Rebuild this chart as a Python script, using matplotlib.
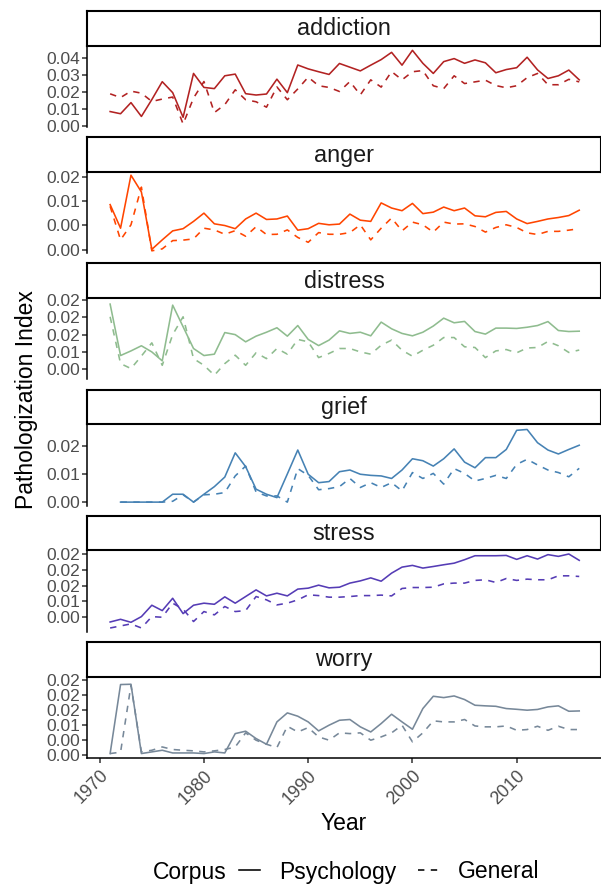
import matplotlib
matplotlib.use('Agg')
import matplotlib.pyplot as plt
from matplotlib.lines import Line2D

plt.rcParams['font.family'] = ['Liberation Sans', 'DejaVu Sans']

years = list(range(1971, 2017))
years_grief = list(range(1972, 2017))

addiction_psych = [.0084, .0071, .0137, .0055, .0155, .0261, .0196, .0050, .0310, .0227,
                   .0220, .0296, .0306, .0190, .0182, .0188, .0276, .0196, .0360, .0337,
                   .0320, .0304, .0369, .0347, .0325, .0359, .0392, .0435, .0359, .0447,
                   .0370, .0310, .0380, .0398, .0370, .0390, .0373, .0314, .0333, .0344,
                   .0406, .0331, .0280, .0296, .0330, .0272]
addiction_general = [.0189, .0167, .0205, .0193, .0144, .0158, .0170, .0010, .0164, .0262,
                     .0078, .0125, .0213, .0154, .0142, .0110, .0230, .0154, .0218, .0288,
                     .0237, .0227, .0203, .0262, .0183, .0272, .0229, .0321, .0272, .0320,
                     .0327, .0237, .0220, .0296, .0250, .0260, .0270, .0238, .0225, .0237,
                     .0285, .0310, .0243, .0243, .0275, .0260]

anger_psych = [.00925, .0044, .0153, .01185, .00005, .0020, .00385, .0043, .0058, .0075,
               .0053, .00495, .0043, .0063, .0075, .0062, .0063, .0069, .0040, .0043,
               .0054, .0051, .00525, .0073, .00605, .0058, .0096, .00855, .0080, .0095,
               .0074, .0077, .00875, .0080, .00855, .00695, .00675, .00765, .00785, .0063,
               .00535, .0058, .0063, .0066, .0070, .0081]
anger_general = [.0089, .0020, .0051, .01285, -.00025, .00015, .00185, .00195, .0022, .0044,
                 .00405, .00315, .0039, .00275, .0047, .0031, .00315, .00405, .0025, .0015,
                 .0035, .00315, .00315, .0035, .0051, .0020, .0044, .0065, .00385, .00565,
                 .0051, .0036, .00565, .00525, .0053, .00475, .0036, .00455, .0051, .00455,
                 .00345, .0031, .00375, .00375, .0040, .0043]

distress_psych = [.0189, .0039, .00525, .00675, .00495, .00235, .0186, .0123, .00595, .0039,
                  .0043, .0106, .0100, .0079, .00955, .0107, .0120, .00955, .01265, .0086,
                  .0068, .0084, .0111, .01035, .0107, .00965, .01365, .0117, .01035, .00965,
                  .0107, .0125, .0148, .01345, .01385, .0109, .01015, .0119, .0119, .0118,
                  .01215, .01265, .0138, .0112, .0109, .0110]
distress_general = [.0152, .00155, .0001, .00375, .0076, .00105, .0100, .0152, .0030, .00105,
                    -.00185, .00155, .0040, .00105, .0047, .0030, .00595, .0043, .0086, .0079,
                    .0033, .0045, .00595, .00595, .00495, .0043, .0069, .0084, .00545, .0037,
                    .00545, .0069, .00915, .00915, .00645, .00625, .0033, .00525, .00565, .0047,
                    .0061, .00625, .0080, .00675, .0048, .0055]

grief_psych = [0, 0, 0, 0, 0, .0028, .0028, 0, .0028, .0055,
               .0089, .0175, .0126, .0046, .0028, .0016, .0100, .0185, .0099, .0069,
               .0073, .0108, .0114, .0099, .0095, .0093, .0084, .0114, .0154, .0147,
               .0128, .0154, .0189, .0142, .0122, .0158, .0158, .0187, .0255, .0258,
               .0211, .0185, .0171, .0187, .0202]
grief_general = [0, 0, 0, 0, 0, .0003, .0026, 0, .0026, .0028,
                 .0034, .0093, .0128, .0036, .0022, .0022, 0, .0119, .0095, .0044,
                 .0048, .0055, .0084, .0052, .0069, .0052, .0069, .0040, .0105, .0084,
                 .0102, .0064, .0119, .0102, .0075, .0084, .0095, .0084, .0134, .0152,
                 .0132, .0114, .0105, .0090, .0120]

stress_psych = [-.0015, -.00065, -.0016, .0002, .0038, .0021, .0060, .00115, .0038, .00445,
                .0041, .00645, .00445, .00655, .00865, .00675, .0076, .00675, .0089, .0092,
                .01015, .0093, .0095, .0108, .0115, .01245, .0114, .01395, .01585, .0164,
                .01555, .01605, .0166, .0171, .0182, .01945, .01945, .01945, .01955, .0183,
                .01945, .0184, .0198, .01925, .0200, .0180]
stress_general = [-.0034, -.00275, -.0021, -.0034, .0002, 0, .00445, .00255, -.00135, .0018,
                  .00075, .0034, .0018, .0021, .00655, .0055, .0039, .00445, .0055, .0071,
                  .00685, .00635, .00635, .00655, .00685, .00685, .0070, .00675, .0091, .0094,
                  .0094, .0095, .01055, .0108, .0108, .01165, .01185, .0110, .01225, .01165,
                  .01205, .01185, .01185, .0131, .0131, .0129]

worry_psych = [.00045, .02345, .02355, .00045, .0010, .00155, .00065, .00065, .00065, .00045,
               .0010, .00065, .0071, .0079, .00545, .00355, .0110, .0140, .0129, .0110,
               .0080, .0099, .01155, .0118, .00935, .00765, .01045, .01355, .0110, .00855,
               .01545, .01955, .0191, .01965, .01845, .01655, .01635, .0162, .01545, .0152,
               .0149, .01515, .0160, .01635, .01455, .01465]
worry_general = [.00045, .0009, .0232, .0010, .00155, .00265, .0018, .00155, .00135, .0010,
                 .00135, .0018, .00265, .00735, .0049, .00355, .00245, .00955, .00765, .0091,
                 .0060, .0049, .00735, .0071, .00735, .0049, .0060, .00735, .0099, .00435,
                 .00735, .01135, .0110, .0110, .0118, .00965, .00935, .00935, .00965, .0082,
                 .00845, .00955, .0082, .00955, .00845, .00845]

terms = ['addiction', 'anger', 'distress', 'grief', 'stress', 'worry']
colors = ['#B22222', '#FF4500', '#8FBC8F', '#4682B4', '#553CB5', '#778899']
psych = [addiction_psych, anger_psych, distress_psych, grief_psych, stress_psych, worry_psych]
general = [addiction_general, anger_general, distress_general, grief_general,
           stress_general, worry_general]
xs = [years, years, years, years_grief, years, years]

ytick_vals = [[0, .01, .02, .03, .04],
              [0, .005, .01, .015],
              [0, .005, .01, .015, .02],
              [0, .01, .02],
              [0, .005, .01, .015, .02],
              [0, .005, .01, .015, .02, .025]]
ytick_labels = [['0.00', '0.01', '0.02', '0.03', '0.04'],
                ['0.00', '0.00', '0.01', '0.02'],
                ['0.00', '0.01', '0.02', '0.02', '0.02'],
                ['0.00', '0.01', '0.02'],
                ['0.00', '0.01', '0.02', '0.02', '0.02'],
                ['0.00', '0.00', '0.01', '0.02', '0.02', '0.02']]
ylims = [(-0.0007, 0.0475), (-0.00072, 0.016), (-0.00303, 0.02068),
         (-0.0012, 0.02767), (-0.00457, 0.02114), (-0.001, 0.0261)]
xticks = [1970, 1980, 1990, 2000, 2010]

W, H = 601, 891
fig = plt.figure(figsize=(W / 100, H / 100), dpi=100)
left, right = 87.4, 600.5
strip_h, panel_h = 34.6, 81.3

for i, term in enumerate(terms):
    s_top = 11 + 126.2 * i
    s_bot = s_top + strip_h
    p_bot = s_bot + panel_h

    ax = fig.add_axes([left / W, 1 - p_bot / H, (right - left) / W, panel_h / H])
    ax.plot(xs[i], psych[i], color=colors[i], lw=1.15)
    ax.plot(xs[i], general[i], color=colors[i], lw=1.15, dashes=(4, 4))
    ax.set_xlim(1968.82, 2018.04)
    ax.set_ylim(*ylims[i])
    ax.set_yticks(ytick_vals[i])
    ax.set_yticklabels(ytick_labels[i])
    for side in ['top', 'right']:
        ax.spines[side].set_visible(False)
    ax.spines['left'].set_linewidth(1.1)
    ax.tick_params(axis='y', direction='out', length=3.5, width=1.1, pad=2,
                   labelsize=12.5, labelcolor='#4D4D4D', color='#333333')
    ax.set_xticks(xticks)
    if i < len(terms) - 1:
        ax.spines['bottom'].set_visible(False)
        ax.tick_params(axis='x', bottom=False, labelbottom=False)
    else:
        ax.spines['bottom'].set_linewidth(1.1)
        ax.set_xticklabels([str(t) for t in xticks], rotation=45, ha='right',
                           rotation_mode='anchor')
        ax.tick_params(axis='x', direction='out', length=3.5, width=1.1, pad=3,
                       labelsize=13, labelcolor='#4D4D4D', color='#333333')

    sax = fig.add_axes([left / W, 1 - s_bot / H, (right - left) / W, strip_h / H])
    sax.set_xticks([])
    sax.set_yticks([])
    for sp in sax.spines.values():
        sp.set_linewidth(1.5)
        sp.set_color('black')
    sax.text(0.5, 0.48, term, ha='center', va='center', fontsize=16.8,
             color='#1A1A1A', transform=sax.transAxes)

fig.text(344 / W, 1 - 823 / H, 'Year', ha='center', va='center', fontsize=16.5)
fig.text(27 / W, 1 - 400 / H, 'Pathologization Index', ha='center', va='center',
         rotation=90, fontsize=16.5)

fig.text(153 / W, 1 - 872 / H, 'Corpus', ha='left', va='center', fontsize=16.5)
handles = [Line2D([], [], color='black', lw=1.15),
           Line2D([], [], color='black', lw=1.15, dashes=(4, 4))]
fig.legend(handles, ['Psychology', 'General'], ncol=2, loc='center left',
           bbox_to_anchor=(239 / W, 1 - 872 / H), frameon=False, fontsize=16.5,
           handlelength=0.9, handletextpad=0.85, columnspacing=0.95,
           borderpad=0, borderaxespad=0)

fig.savefig('out.png', dpi=100)
